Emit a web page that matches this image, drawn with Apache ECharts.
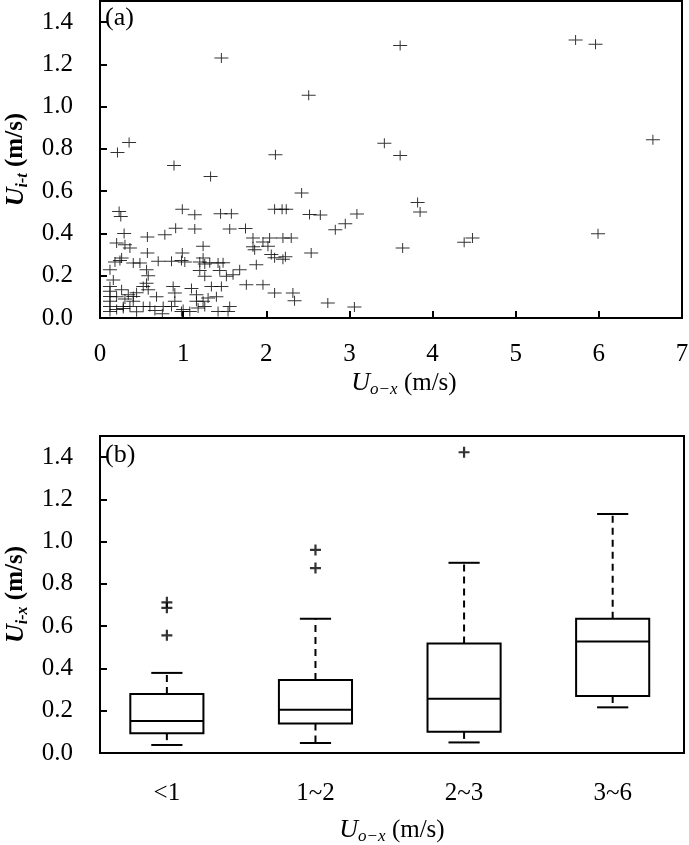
<!DOCTYPE html>
<html>
<head>
<meta charset="utf-8">
<script src="https://cdn.jsdelivr.net/npm/echarts@6/dist/echarts.min.js"></script>
<style>
html,body{margin:0;padding:0;background:#fff;}
#c{width:689px;height:845px;}
</style>
</head>
<body>
<div id="c"></div>
<script>
// ---- Panel (a): scatter of U_o-x vs U_i-t ----
const uOx = [1.46,2.51,3.61,5.72,5.96,6.65,3.42,3.61,0.35,0.21,0.89,2.11,1.33,2.425,3.82,3.85,3.09,5.99,3.64,4.38,4.48,3.06,2.74,2.54,2.52,2.65,2.95,2.83,2.32,2.34,2.10,1.96,1.76,
0.23,0.25,0.99,1.14,1.45,1.58,2.10,2.19,2.24,0.29,0.57,0.78,0.91,1.14,1.56,1.75,
0.20,0.30,0.36,0.57,0.99,1.24,1.84,2.04,2.20,2.30,1.84,1.96,2.02,1.86,2.06,2.10,2.20,2.23,
0.18,0.24,0.26,0.40,0.48,0.70,0.86,0.98,1.02,1.20,1.24,1.26,1.32,1.42,1.48,1.88,
0.12,0.56,0.58,1.20,1.26,1.44,1.52,1.60,1.68,
0.12,0.12,0.12,0.12,0.12,0.12,0.26,0.34,0.40,0.40,0.52,0.56,0.58,0.88,0.90,0.90,1.16,1.16,1.18,1.26,1.34,1.46,1.30,1.24,
0.28,0.36,0.52,0.60,0.86,0.76,1.00,1.08,0.98,1.42,1.54,1.56,0.28,0.20,0.44,0.66,0.75,
0.20,0.30,0.44,0.16,0.68,1.10,1.40];
const uIt = [1.23,1.054,1.289,1.316,1.295,0.843,0.827,0.769,0.83,0.783,0.722,0.772,0.67,0.591,0.547,0.501,0.492,0.399,0.331,0.359,0.378,0.052,0.071,0.307,0.49,0.487,0.446,0.417,0.118,0.082,0.118,0.157,0.157,
0.504,0.48,0.515,0.488,0.493,0.493,0.515,0.515,0.515,0.40,0.383,0.394,0.425,0.421,0.421,0.424,
0.355,0.347,0.331,0.307,0.307,0.339,0.378,0.378,0.378,0.378,0.337,0.360,0.339,0.323,0.30,0.285,0.278,0.29,
0.265,0.272,0.284,0.26,0.26,0.268,0.268,0.272,0.265,0.265,0.284,0.255,0.262,0.26,0.262,0.252,
0.228,0.228,0.20,0.225,0.197,0.225,0.197,0.205,0.228,
0.149,0.126,0.102,0.079,0.055,0.031,0.134,0.110,0.102,0.079,0.149,0.165,0.134,0.149,0.118,0.079,0.110,0.079,0.047,0.055,0.149,0.149,0.095,0.079,
0.055,0.055,0.055,0.055,0.055,0.055,0.04,0.031,0.031,0.031,0.031,0.055,0.045,0.04,0.03,0.035,0.02,
0.10,0.09,0.12,0.18,0.10,0.14,0.10];

const xTicksA = [0,1,2,3,4,5,6,7];
const yTicks = [0.0,0.2,0.4,0.6,0.8,1.0,1.2,1.4];

// ---- Panel (b): box plots by U_o-x class ----
const cats = ['<1','1~2','2~3','3~6'];
const boxLow  = [0.038,0.047,0.050,0.216];
const boxQ1   = [0.094,0.139,0.100,0.270];
const boxMed  = [0.151,0.205,0.257,0.528];
const boxQ3   = [0.279,0.345,0.518,0.635];
const boxHigh = [0.379,0.635,0.900,1.131];
const outCat  = [1,1,1,2,2,3];
const outVal  = [0.713,0.687,0.557,0.961,0.875,1.423];

const FONT = '"Liberation Serif","Times New Roman",serif';

const scatterData = uOx.map((x,i)=>[x,uIt[i]]);
const boxData = cats.map((c,i)=>[i+1,boxLow[i],boxQ1[i],boxMed[i],boxQ3[i],boxHigh[i]]);
const outData = outCat.map((c,i)=>[c,outVal[i]]);

function yAxisCfg(gridIndex, sub){
  return {
    type:'value', gridIndex, min:0, max:1.5, interval:0.2,
    axisLine:{show:true,lineStyle:{color:'#000',width:2}},
    axisTick:{show:true,inside:true,length:7,lineStyle:{color:'#000',width:2}},
    axisLabel:{margin:27,color:'#000',fontFamily:FONT,fontSize:25,
      formatter:v=> v>1.45 ? '' : v.toFixed(1)},
    splitLine:{show:false},
    name:'{u|U}{s|'+sub+'}{n| (m/s)}',
    nameLocation:'middle', nameGap:64,
    nameTextStyle:{rich:{
      u:{fontFamily:FONT,fontSize:26,fontWeight:'bold',fontStyle:'italic',color:'#000',lineHeight:30,verticalAlign:'middle'},
      s:{fontFamily:FONT,fontSize:16,fontWeight:'bold',fontStyle:'italic',color:'#000',lineHeight:30,verticalAlign:'bottom'},
      n:{fontFamily:FONT,fontSize:25,fontWeight:'bold',color:'#000',lineHeight:30,verticalAlign:'middle'}
    }}
  };
}
const xNameRich = {
  u:{fontFamily:FONT,fontSize:26,fontStyle:'italic',color:'#000',lineHeight:30,verticalAlign:'middle'},
  s:{fontFamily:FONT,fontSize:17,fontStyle:'italic',color:'#000',lineHeight:30,verticalAlign:'bottom'},
  n:{fontFamily:FONT,fontSize:25,color:'#000',lineHeight:30,verticalAlign:'middle'}
};

function renderBox(params, api){
  const pos = api.value(0);
  const pLow = api.coord([pos, api.value(1)]);
  const pQ1 = api.coord([pos, api.value(2)]);
  const pMed = api.coord([pos, api.value(3)]);
  const pQ3 = api.coord([pos, api.value(4)]);
  const pHigh = api.coord([pos, api.value(5)]);
  const unit = api.size([1,0])[0];
  const hw = unit*0.246, cw = unit*0.105;
  const cx = pMed[0];
  const solid = {stroke:'#000',lineWidth:2,fill:'none'};
  const dash = {stroke:'#000',lineWidth:2,lineDash:[7,5]};
  return {type:'group',children:[
    {type:'line',shape:{x1:cx,y1:pQ3[1],x2:cx,y2:pHigh[1]},style:dash},
    {type:'line',shape:{x1:cx,y1:pQ1[1],x2:cx,y2:pLow[1]},style:dash},
    {type:'line',shape:{x1:cx-cw,y1:pHigh[1],x2:cx+cw,y2:pHigh[1]},style:solid},
    {type:'line',shape:{x1:cx-cw,y1:pLow[1],x2:cx+cw,y2:pLow[1]},style:solid},
    {type:'rect',shape:{x:cx-hw,y:pQ3[1],width:2*hw,height:pQ1[1]-pQ3[1]},style:{stroke:'#000',lineWidth:2,fill:'#fff'}},
    {type:'line',shape:{x1:cx-hw,y1:pMed[1],x2:cx+hw,y2:pMed[1]},style:solid}
  ]};
}

const chart = echarts.init(document.getElementById('c'), null, {renderer:'canvas'});
chart.setOption({
  animation:false,
  backgroundColor:'#fff',
  grid:[
    {left:100,right:7,top:1,bottom:527,show:true,borderColor:'#000',borderWidth:2,backgroundColor:'transparent',containLabel:false,outerBoundsMode:'none'},
    {left:100,right:5,top:436,bottom:92,show:true,borderColor:'#000',borderWidth:2,backgroundColor:'transparent',containLabel:false,outerBoundsMode:'none'}
  ],
  xAxis:[
    {type:'value',gridIndex:0,min:0,max:7,interval:1,
     axisLine:{show:true,lineStyle:{color:'#000',width:2}},
     axisTick:{show:true,inside:true,length:7,lineStyle:{color:'#000',width:2}},
     axisLabel:{margin:24,color:'#000',fontFamily:FONT,fontSize:25},
     splitLine:{show:false},
     name:'{u|U}{s|o−x}{n| (m/s)}',nameLocation:'middle',nameGap:50,
     nameTextStyle:{rich:xNameRich,padding:[0,0,0,26]}},
    {type:'value',gridIndex:1,min:0.55,max:4.48,
     axisLine:{show:true,lineStyle:{color:'#000',width:2}},
     axisTick:{show:false},
     axisLabel:{margin:28,color:'#000',fontFamily:FONT,fontSize:25,customValues:[1,2,3,4],
       formatter:v=>{const i=Math.round(v);return (Math.abs(v-i)<1e-6 && i>=1 && i<=4)?cats[i-1]:'';}},
     splitLine:{show:false},
     name:'{u|U}{s|o−x}{n| (m/s)}',nameLocation:'middle',nameGap:62,
     nameTextStyle:{rich:xNameRich}}
  ],
  yAxis:[yAxisCfg(0,'i-t'), yAxisCfg(1,'i-x')],
  graphic:[
    {type:'text',left:105,top:5,style:{text:'(a)',font:'26px '+FONT,fill:'#000'}},
    {type:'text',left:105,top:442,style:{text:'(b)',font:'26px '+FONT,fill:'#000'}}
  ],
  series:[
    {type:'scatter',xAxisIndex:0,yAxisIndex:0,data:scatterData,
     symbol:'path://M0,4.5H14V5.5H0Z M6.5,0H7.5V10H6.5Z',symbolSize:[14,10],
     itemStyle:{color:'#000'},silent:true},
    {type:'custom',xAxisIndex:1,yAxisIndex:1,data:boxData,renderItem:renderBox,
     encode:{x:0,y:[1,2,3,4,5]},silent:true},
    {type:'scatter',xAxisIndex:1,yAxisIndex:1,data:outData,
     symbol:'path://M0,4H10V6H0Z M4,0H6V10H4Z',symbolSize:11,
     itemStyle:{color:'#000'},silent:true}
  ]
});
</script>
</body>
</html>
